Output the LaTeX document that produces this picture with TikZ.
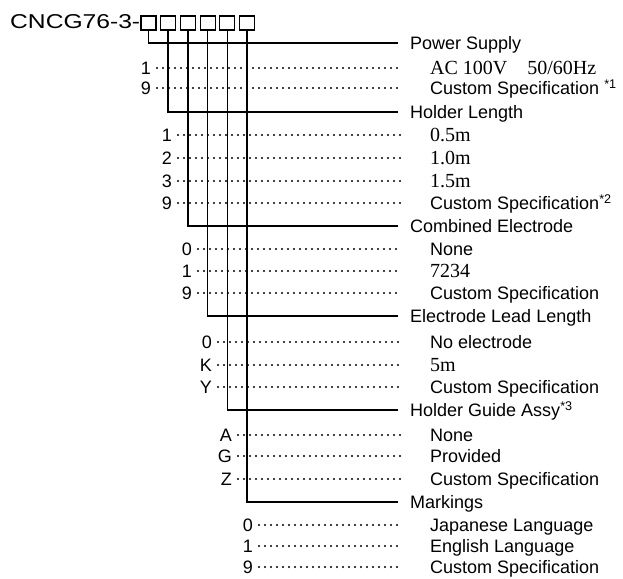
\documentclass[tikz,border=0pt]{standalone}
\usepackage{fontspec}
\setmainfont{Liberation Serif}
\setsansfont{Liberation Sans}
\usepackage{tikz}
\usetikzlibrary{positioning}

\tikzset{
  box/.style={draw, line width=1.1pt, minimum width=15pt, minimum height=14pt, inner sep=0pt},
  lead/.style={line width=1.5pt},
  dots/.style={line width=2.2pt, line cap=round, dash pattern=on 0pt off 6pt,
               shorten <=6pt, shorten >=30pt},
  txt/.style={inner sep=0pt, text height=13pt, text depth=0pt},
  head/.style={txt, anchor=west, inner xsep=12pt, font=\sffamily\fontsize{18}{20}\selectfont},
  code/.style={txt, anchor=east, font=\sffamily\fontsize{18}{20}\selectfont},
  item/.style={txt, anchor=west, font=\sffamily\fontsize{18}{20}\selectfont},
  itemrm/.style={txt, anchor=west, font=\rmfamily\fontsize{20}{22}\selectfont},
}

\begin{document}
\begin{tikzpicture}[x=1pt, y=-1pt]
  \useasboundingbox (0,0) rectangle (623,578);

  % model code and the six digit boxes
  \node[anchor=south west, inner sep=0pt] (title) at (10,29)
    {\sffamily\resizebox{130pt}{14pt}{CNCG76-3-}};
  \foreach \i in {1,...,6}
    \node[box] (b\i) at ({128.8+19.7*\i}, 23) {};

  % power supply
  \node[head] (h1) at (398,43) {Power Supply};
  \draw[lead] (b1.south) |- (h1.west);
  \foreach \k/\y/\t/\s in {1/68/{AC 100V\hspace{20pt}50/60Hz}/itemrm,
                           9/88/{Custom Specification \textsuperscript{*1}}/item} {
    \node[code] (c1\k) at (151,\y) {\k};
    \node[\s] (d1\k) at (430,\y) {\t};
    \draw[dots] (c1\k.east) -- (d1\k.west);
  }

  % holder length
  \node[head] (h2) at (398,112) {Holder Length};
  \draw[lead] (b2.south) |- (h2.west);
  \foreach \k/\y/\t/\s in {1/135/0.5m/itemrm, 2/158/1.0m/itemrm, 3/181/1.5m/itemrm,
                           9/203/{Custom Specification\textsuperscript{*2}}/item} {
    \node[code] (c2\k) at (172,\y) {\k};
    \node[\s] (d2\k) at (430,\y) {\t};
    \draw[dots] (c2\k.east) -- (d2\k.west);
  }

  % combined electrode
  \node[head] (h3) at (398,226) {Combined Electrode};
  \draw[lead] (b3.south) |- (h3.west);
  \foreach \k/\y/\t/\s in {0/249/None/item, 1/271/7234/itemrm,
                           9/293/Custom Specification/item} {
    \node[code] (c3\k) at (192,\y) {\k};
    \node[\s] (d3\k) at (430,\y) {\t};
    \draw[dots] (c3\k.east) -- (d3\k.west);
  }

  % electrode lead length
  \node[head] (h4) at (398,316) {Electrode Lead Length};
  \draw[lead] (b4.south) |- (h4.west);
  \foreach \k/\y/\t/\s in {0/342/No electrode/item, K/365/5m/itemrm,
                           Y/387/Custom Specification/item} {
    \node[code] (c4\k) at (212,\y) {\k};
    \node[\s] (d4\k) at (430,\y) {\t};
    \draw[dots] (c4\k.east) -- (d4\k.west);
  }

  % holder guide
  \node[head] (h5) at (398,410) {Holder Guide Assy\textsuperscript{*3}};
  \draw[lead] (b5.south) |- (h5.west);
  \foreach \k/\y/\t in {A/435/None, G/456/Provided, Z/479/Custom Specification} {
    \node[code] (c5\k) at (232,\y) {\k};
    \node[item] (d5\k) at (430,\y) {\t};
    \draw[dots] (c5\k.east) -- (d5\k.west);
  }

  % markings
  \node[head] (h6) at (398,502) {Markings};
  \draw[lead] (b6.south) |- (h6.west);
  \foreach \k/\y/\t in {0/525/Japanese Language, 1/546/English Language,
                        9/567/Custom Specification} {
    \node[code] (c6\k) at (253,\y) {\k};
    \node[item] (d6\k) at (430,\y) {\t};
    \draw[dots] (c6\k.east) -- (d6\k.west);
  }
\end{tikzpicture}
\end{document}
